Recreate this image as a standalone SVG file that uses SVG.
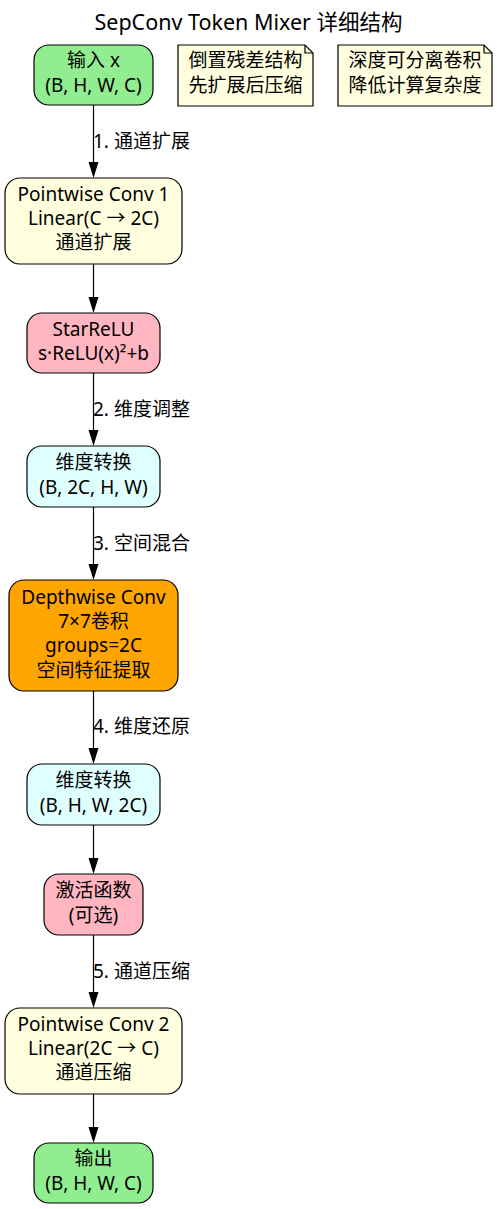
<svg xmlns="http://www.w3.org/2000/svg" width="497" height="1209" viewBox="0 0 497 1209">
<defs>
<style>
text{font-family:"Noto Sans","Noto Sans CJK SC",sans-serif;font-size:19px;fill:#000}
.t{text-anchor:middle}
.title{font-size:21.5px;text-anchor:middle}
.lbl{text-anchor:start}
.n{stroke:#000;stroke-width:1.2}
.green{fill:#90EE90}.yellow{fill:#FFFFE0}.pink{fill:#FFB6C1}.cyan{fill:#E0FFFF}.orange{fill:#FFA500}
.e{stroke:#000;stroke-width:1.2;fill:none}
.note{fill:#FFFFE0;stroke:#000;stroke-width:1.2}
</style>
</defs>
<rect width="497" height="1209" fill="#fff"/>
<text class="title" x="248.5" y="30">SepConv Token Mixer 详细结构</text>

<g id="edges">
<path class="e" d="M93.5,105 V162"/><path d="M88.5,162 L93.5,178 L98.5,162 Z"/>
<path class="e" d="M93.5,264 V297"/><path d="M88.5,297 L93.5,313 L98.5,297 Z"/>
<path class="e" d="M93.5,373 V430"/><path d="M88.5,430 L93.5,446 L98.5,430 Z"/>
<path class="e" d="M93.5,507 V564"/><path d="M88.5,564 L93.5,580 L98.5,564 Z"/>
<path class="e" d="M93.5,691 V748"/><path d="M88.5,748 L93.5,764 L98.5,748 Z"/>
<path class="e" d="M93.5,825 V858"/><path d="M88.5,858 L93.5,874 L98.5,858 Z"/>
<path class="e" d="M93.5,935 V992"/><path d="M88.5,992 L93.5,1008 L98.5,992 Z"/>
<path class="e" d="M93.5,1094 V1127"/><path d="M88.5,1127 L93.5,1143 L98.5,1127 Z"/>
<text class="lbl" x="93" y="148">1. 通道扩展</text>
<text class="lbl" x="93" y="416">2. 维度调整</text>
<text class="lbl" x="93" y="550">3. 空间混合</text>
<text class="lbl" x="93" y="733">4. 维度还原</text>
<text class="lbl" x="93" y="978">5. 通道压缩</text>
</g>

<g id="input">
<rect class="n green" x="34" y="45" width="119" height="60" rx="15"/>
<text class="t" x="93.5" y="67">输入 x</text>
<text class="t" x="93.5" y="92">(B, H, W, C)</text>
</g>

<g id="note1">
<path class="note" d="M178,45 H305 L313,53 V106 H178 Z"/>
<path class="e" d="M305,45 V53 H313"/>
<text class="t" x="245.5" y="67">倒置残差结构</text>
<text class="t" x="245.5" y="92">先扩展后压缩</text>
</g>

<g id="note2">
<path class="note" d="M338,45 H484 L492,53 V106 H338 Z"/>
<path class="e" d="M484,45 V53 H492"/>
<text class="t" x="415" y="67">深度可分离卷积</text>
<text class="t" x="415" y="92">降低计算复杂度</text>
</g>

<g id="pw1">
<rect class="n yellow" x="5" y="178" width="177" height="86" rx="15"/>
<text class="t" x="93.5" y="201">Pointwise Conv 1</text>
<text class="t" x="93.5" y="225">Linear(C → 2C)</text>
<text class="t" x="93.5" y="249">通道扩展</text>
</g>

<g id="starrelu">
<rect class="n pink" x="27" y="313" width="133" height="60" rx="15"/>
<text class="t" x="93.5" y="336">StarReLU</text>
<text class="t" x="93.5" y="360">s·ReLU(x)²+b</text>
</g>

<g id="perm1">
<rect class="n cyan" x="27" y="446" width="133" height="61" rx="15"/>
<text class="t" x="93.5" y="469">维度转换</text>
<text class="t" x="93.5" y="494">(B, 2C, H, W)</text>
</g>

<g id="dwconv">
<rect class="n orange" x="9" y="580" width="169" height="111" rx="15"/>
<text class="t" x="93.5" y="604">Depthwise Conv</text>
<text class="t" x="93.5" y="628">7×7卷积</text>
<text class="t" x="93.5" y="652">groups=2C</text>
<text class="t" x="93.5" y="677">空间特征提取</text>
</g>

<g id="perm2">
<rect class="n cyan" x="27" y="764" width="133" height="61" rx="15"/>
<text class="t" x="93.5" y="787">维度转换</text>
<text class="t" x="93.5" y="812">(B, H, W, 2C)</text>
</g>

<g id="act">
<rect class="n pink" x="44" y="874" width="99" height="61" rx="15"/>
<text class="t" x="93.5" y="897">激活函数</text>
<text class="t" x="93.5" y="922">(可选)</text>
</g>

<g id="pw2">
<rect class="n yellow" x="5" y="1008" width="177" height="86" rx="15"/>
<text class="t" x="93.5" y="1031">Pointwise Conv 2</text>
<text class="t" x="93.5" y="1055">Linear(2C → C)</text>
<text class="t" x="93.5" y="1079">通道压缩</text>
</g>

<g id="output">
<rect class="n green" x="34" y="1143" width="119" height="60" rx="15"/>
<text class="t" x="93.5" y="1165">输出</text>
<text class="t" x="93.5" y="1190">(B, H, W, C)</text>
</g>
</svg>
